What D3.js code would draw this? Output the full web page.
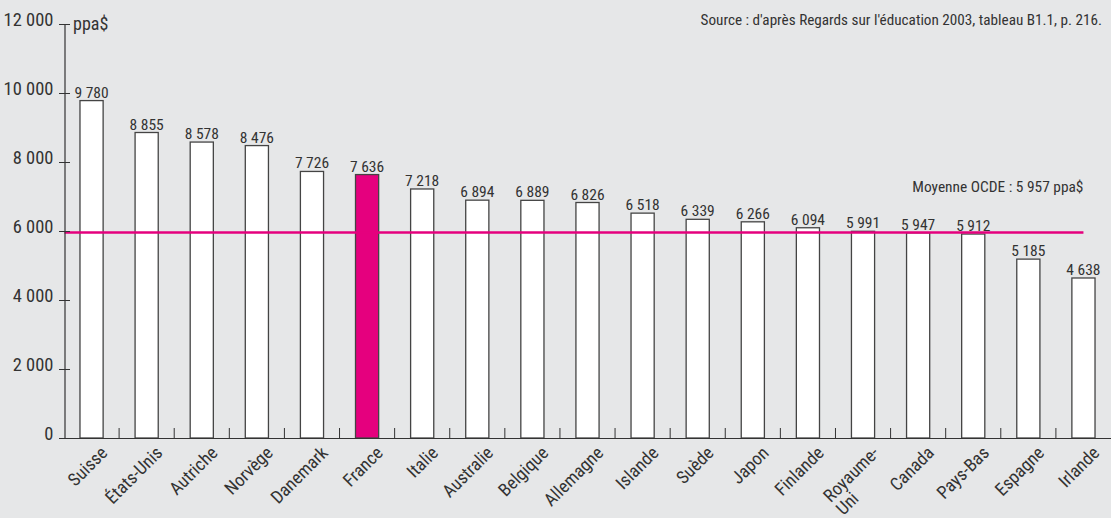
<!DOCTYPE html>
<html>
<head>
<meta charset="utf-8">
<script src="https://cdn.jsdelivr.net/npm/d3@7"></script>
<style>
  html, body { margin: 0; padding: 0; background: #e6e7e8; }
  svg { display: block; }
  text { font-family: "Liberation Sans Narrow", "Arial Narrow", "Roboto Condensed", sans-serif; fill: #333; }
</style>
</head>
<body>
<svg id="chart" width="1111" height="518"></svg>
<script>
const categories = ["Suisse", "États-Unis", "Autriche", "Norvège", "Danemark", "France", "Italie", "Australie", "Belgique", "Allemagne", "Islande", "Suède", "Japon", "Finlande", "Royaume-Uni", "Canada", "Pays-Bas", "Espagne", "Irlande"];
const values = [9780, 8855, 8578, 8476, 7726, 7636, 7218, 6894, 6889, 6826, 6518, 6339, 6266, 6094, 5991, 5947, 5912, 5185, 4638];
const highlight = ["France"];
const yTicks = [0, 2000, 4000, 6000, 8000, 10000, 12000];
const oecdAverage = 5957;
const unitLabel = "ppa$";
const sourceText = "Source : d'après Regards sur l'éducation 2003, tableau B1.1, p. 216.";
const averageText = "Moyenne OCDE : 5 957 ppa$";

const svg = d3.select("#chart");
const W = 1111, H = 518;
svg.append("rect").attr("width", W).attr("height", H).attr("fill", "#e6e7e8");

const axisX = 64.5;
const x = d3.scaleBand().domain(categories).range([64, 1111]).padding(0);
const y = d3.scaleLinear().domain([0, 12000]).range([438, 24]);
const fmt = v => d3.format(",")(v).replace(/,/g, " ");
const magenta = "#e5007e";

// Bars
const barW = x.bandwidth() * 0.42;
svg.append("g").selectAll("rect").data(values).join("rect")
  .attr("x", (d, i) => x(categories[i]) + x.bandwidth() / 2 - barW / 2)
  .attr("y", d => y(d))
  .attr("width", barW)
  .attr("height", d => y(0) - y(d))
  .attr("fill", (d, i) => highlight.includes(categories[i]) ? magenta : "#fff")
  .attr("stroke", "#444")
  .attr("stroke-width", 1.3);

// Value labels
svg.append("g").selectAll("text").data(values).join("text")
  .attr("x", (d, i) => x(categories[i]) + x.bandwidth() / 2)
  .attr("y", d => y(d) - 3)
  .attr("text-anchor", "middle")
  .attr("font-size", 15.5)
  .text(d => fmt(d));

// Average line
svg.append("line")
  .attr("x1", axisX).attr("x2", x("Irlande") + x.bandwidth() / 2)
  .attr("y1", y(oecdAverage)).attr("y2", y(oecdAverage))
  .attr("stroke", magenta).attr("stroke-width", 2.4);

svg.append("text")
  .attr("x", x("Irlande") + x.bandwidth() / 2)
  .attr("y", y(oecdAverage) - 40)
  .attr("text-anchor", "end")
  .attr("font-size", 15.4)
  .text(averageText);

// Y axis
const yAxis = d3.axisLeft(y).tickValues(yTicks).tickSize(0).tickFormat(fmt);
const gy = svg.append("g").attr("transform", `translate(${axisX},0)`).call(yAxis);
gy.attr("font-family", null).attr("font-size", null);
gy.select(".domain").attr("stroke", "#333").attr("stroke-width", 1.2);
gy.selectAll(".tick line").attr("x1", -5.5).attr("x2", 5.5).attr("stroke", "#333").attr("stroke-width", 1);
gy.selectAll(".tick text").attr("x", -11).attr("dy", "0.1em").attr("font-size", 18.5).attr("fill", "#333");

svg.append("text").attr("x", 73).attr("y", y(12000) + 6).attr("font-size", 18).text(unitLabel);

// X axis baseline
const xAxis = d3.axisBottom(x).tickSize(0).tickFormat("");
const gx = svg.append("g").attr("transform", `translate(0,${y(0)})`).call(xAxis);
gx.select(".domain").attr("stroke", "#333").attr("stroke-width", 1.2);
gx.selectAll(".tick").remove();

// Separator ticks between categories
svg.append("g").selectAll("line").data(categories.slice(1)).join("line")
  .attr("x1", d => x(d)).attr("x2", d => x(d))
  .attr("y1", y(0)).attr("y2", y(0) - 10)
  .attr("stroke", "#333").attr("stroke-width", 1);

// Category labels
const labels = svg.append("g").selectAll("text").data(categories).join("text")
  .attr("transform", d => `translate(${x(d) + x.bandwidth() / 2 + 17},${y(0) + 16}) rotate(-45)`)
  .attr("text-anchor", "end")
  .attr("font-size", 18);
labels.each(function(d) {
  const t = d3.select(this);
  if (d === "Royaume-Uni") {
    const first = t.append("tspan").attr("x", 0).attr("text-anchor", "end").text("Royaume-");
    const L = first.node().getComputedTextLength();
    t.append("tspan").attr("x", -L).attr("dy", "1.0em").attr("text-anchor", "start").text("Uni");
  } else {
    t.text(d);
  }
});

// Source
svg.append("text").attr("x", 1102).attr("y", 25).attr("text-anchor", "end").attr("font-size", 15.2).text(sourceText);
</script>
</body>
</html>
